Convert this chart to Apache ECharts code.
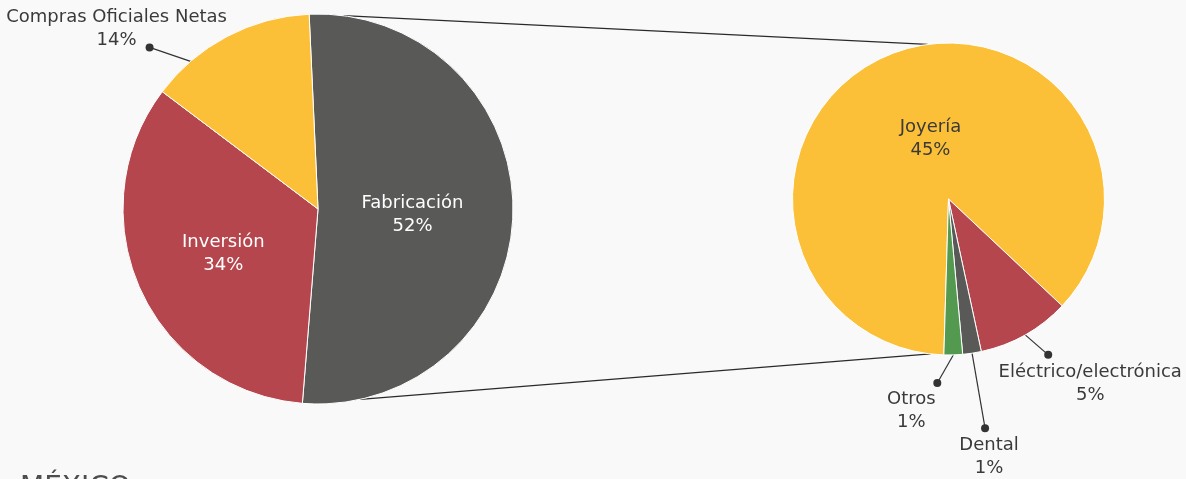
<!DOCTYPE html>
<html>
<head>
<meta charset="utf-8">
<script src="https://cdn.jsdelivr.net/npm/echarts@6/dist/echarts.min.js"></script>
<style>
html, body { margin: 0; padding: 0; background: #f9f9f9; }
#chart { width: 1186px; height: 479px; }
</style>
</head>
<body>
<div id="chart"></div>
<script>
// demanda total (izquierda) y desglose de fabricación (derecha)
const useNames = ['Fabricación', 'Inversión', 'Compras Oficiales Netas'];
const useValues = [52, 34, 14];
const useColors = ['#595957', '#b5464e', '#fbc037'];

const fabNames = ['Joyería', 'Eléctrico/electrónica', 'Dental', 'Otros'];
const fabValues = [45, 5, 1, 1];
const fabColors = ['#fbc037', '#b5464e', '#595957', '#53994f'];

const titleText = 'MÉXICO';

const FONT = 'DejaVu Sans';
const TEXT = '#3a3a3a';
const left = { cx: 318, cy: 209, r: 195, start: 92.6 };
const right = { cx: 948.5, cy: 199, r: 156, start: 268.3 };

// etiquetas externas: giro del arranque, punto y texto (relativos)
const outside = {
  'Compras Oficiales Netas': { shift: -13, dot: [-41, -14], text: [-33, 4.5], va: 'bottom' },
  'Eléctrico/electrónica': { shift: 0, dot: [23, 20], text: [42, 5.5], va: 'top' },
  'Dental': { shift: 0, dot: [13, 75], text: [4, 5.5], va: 'top' },
  'Otros': { shift: 0, dot: [-16, 28], text: [-26, 4.5], va: 'top' }
};
// ajuste fino de las etiquetas internas
const insideNudge = {
  'Fabricación': [-6, 4],
  'Inversión': [-3, 4],
  'Joyería': [13, 15]
};

// angulo medio de cada rebanada, grados en sentido horario desde arriba
function midAngles(values, start) {
  const total = values.reduce((a, b) => a + b, 0);
  let acc = 90 - start;
  return values.map(v => {
    const m = acc + v / total * 180;
    acc += v / total * 360;
    return m;
  });
}

function polar(p, deg, rr) {
  const t = deg * Math.PI / 180;
  return [p.cx + rr * Math.sin(t), p.cy - rr * Math.cos(t)];
}

const pies = [
  { p: left, names: useNames, values: useValues, mids: midAngles(useValues, left.start) },
  { p: right, names: fabNames, values: fabValues, mids: midAngles(fabValues, right.start) }
];

const leaders = {};
pies.forEach(pie => {
  pie.names.forEach((n, i) => {
    const o = outside[n];
    if (!o) return;
    const edge = polar(pie.p, pie.mids[i] + o.shift, pie.p.r);
    const dot = [edge[0] + o.dot[0], edge[1] + o.dot[1]];
    leaders[n] = { edge, dot, text: [dot[0] + o.text[0], dot[1] + o.text[1]], va: o.va };
  });
});

function buildData(names, values, colors, insideColor) {
  return names.map((n, i) => {
    const out = !!outside[n];
    return {
      name: n,
      value: values[i],
      itemStyle: { color: colors[i] },
      label: out
        ? { position: 'outside', color: TEXT }
        : { position: 'inside', color: insideColor[i] },
      labelLine: { show: out }
    };
  });
}

function layoutFor(names) {
  return function (params) {
    const n = names[params.dataIndex];
    const l = leaders[n];
    if (!l) {
      const d = insideNudge[n] || [0, 0];
      return { dx: d[0], dy: d[1] };
    }
    return {
      x: l.text[0],
      y: l.text[1],
      align: 'center',
      verticalAlign: l.va,
      labelLinePoints: [l.edge, l.dot]
    };
  };
}

const baseSeries = {
  type: 'pie',
  clockwise: true,
  avoidLabelOverlap: false,
  animation: false,
  silent: true,
  itemStyle: { borderColor: '#ffffff', borderWidth: 1 },
  label: {
    formatter: '{b}\n{c}%',
    fontFamily: FONT,
    fontSize: 18,
    lineHeight: 23,
    align: 'center'
  },
  labelLine: { lineStyle: { color: '#333333', width: 1.2 } }
};

// lineas que unen la rebanada de fabricación con el desglose
const connectors = [
  [polar(left, 7.5, left.r), polar(right, 352.3, right.r)],
  [polar(left, 167.5, left.r), polar(right, 186.6, right.r)]
];

const graphics = connectors.map(c => ({
  type: 'line',
  silent: true,
  shape: { x1: c[0][0], y1: c[0][1], x2: c[1][0], y2: c[1][1] },
  style: { stroke: '#2a2a2a', lineWidth: 1.3 }
})).concat(Object.keys(leaders).map(k => ({
  type: 'circle',
  silent: true,
  z: 10,
  shape: { cx: leaders[k].dot[0], cy: leaders[k].dot[1], r: 4 },
  style: { fill: '#333333' }
})));

const chart = echarts.init(document.getElementById('chart'));
chart.setOption({
  backgroundColor: '#f9f9f9',
  animation: false,
  title: {
    text: titleText,
    left: 20,
    top: 475,
    padding: 0,
    textStyle: { fontFamily: FONT, fontSize: 28, fontWeight: 'normal', color: '#4d4d4d' }
  },
  graphic: graphics,
  series: [
    Object.assign({}, baseSeries, {
      center: [left.cx, left.cy],
      radius: left.r,
      startAngle: left.start,
      data: buildData(useNames, useValues, useColors, ['#ffffff', '#ffffff', TEXT]),
      labelLayout: layoutFor(useNames)
    }),
    Object.assign({}, baseSeries, {
      center: [right.cx, right.cy],
      radius: right.r,
      startAngle: right.start,
      data: buildData(fabNames, fabValues, fabColors, [TEXT, TEXT, TEXT, TEXT]),
      labelLayout: layoutFor(fabNames)
    })
  ]
});
</script>
</body>
</html>
